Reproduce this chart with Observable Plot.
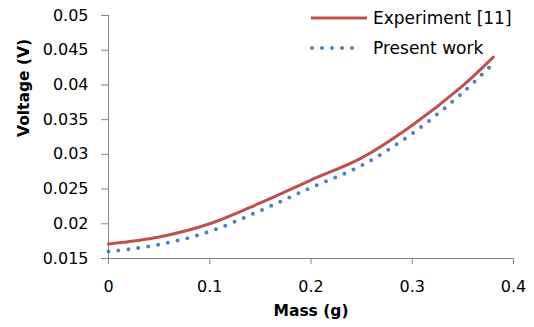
<!DOCTYPE html>
<html>
<head>
<meta charset="utf-8">
<script src="https://cdn.jsdelivr.net/npm/d3@7"></script>
<script src="https://cdn.jsdelivr.net/npm/@observablehq/plot@0.6"></script>
<style>
  html, body { margin: 0; padding: 0; background: #fff; }
  #wrap { position: relative; width: 534px; height: 327px; font-family: "DejaVu Sans", sans-serif; }
  #legend { position: absolute; left: 0; top: 0; }
</style>
</head>
<body>
<div id="wrap"></div>
<script>
const mass = [0, 0.05, 0.1, 0.15, 0.2, 0.25, 0.3, 0.35, 0.38];
const experiment = [0.0171, 0.0181, 0.0200, 0.0230, 0.0263, 0.0295, 0.0342, 0.0399, 0.0440];
const presentWork = [0.0160, 0.0170, 0.0189, 0.0219, 0.0252, 0.0284, 0.0330, 0.0389, 0.0431];
const xTicks = [0, 0.1, 0.2, 0.3, 0.4];
const xTickLabels = ["0", "0.1", "0.2", "0.3", "0.4"];
const yTicks = [0.015, 0.02, 0.025, 0.03, 0.035, 0.04, 0.045, 0.05];
const yTickLabels = ["0.015", "0.02", "0.025", "0.03", "0.035", "0.04", "0.045", "0.05"];
const seriesNames = ["Experiment [11]", "Present work"];
const seriesColors = ["#C0504D", "#4F81BD"];

const expData = mass.map((m, i) => ({mass: m, v: experiment[i]}));
const pwData = mass.map((m, i) => ({mass: m, v: presentWork[i]}));
const axisColor = "#868686";

const chart = Plot.plot({
  width: 534,
  height: 327,
  marginLeft: 108,
  marginRight: 21,
  marginTop: 15,
  marginBottom: 69,
  style: {fontFamily: "DejaVu Sans, sans-serif", fontSize: "16px", color: "#000", background: "transparent"},
  x: {domain: [0, 0.4]},
  y: {domain: [0.015, 0.05]},
  marks: [
    Plot.axisY({ticks: yTicks, tickFormat: d => yTickLabels[yTicks.indexOf(d)], tickSize: 7, tickPadding: 13, stroke: axisColor, fill: "#000", label: null}),
    Plot.axisX({ticks: xTicks, tickFormat: d => xTickLabels[xTicks.indexOf(d)], tickSize: 6, tickPadding: 16, stroke: axisColor, fill: "#000", label: null}),
    Plot.ruleX([0], {stroke: axisColor}),
    Plot.ruleY([0.015], {stroke: axisColor}),
    Plot.line(expData, {x: "mass", y: "v", stroke: seriesColors[0], strokeWidth: 3, curve: "catmull-rom"}),
    Plot.line(pwData, {x: "mass", y: "v", stroke: seriesColors[1], strokeWidth: 4, strokeDasharray: "0 10", strokeLinecap: "round", curve: "catmull-rom"}),
    Plot.text(["Mass (g)"], {frameAnchor: "bottom", dy: 57, fontWeight: "bold", fontSize: 15.5, fill: "#000"}),
    Plot.text(["Voltage (V)"], {frameAnchor: "left", dx: -84, rotate: -90, fontWeight: "bold", fontSize: 15.5, fill: "#000"})
  ]
});

const wrap = document.getElementById("wrap");
wrap.appendChild(chart);

// Legend
const ns = "http://www.w3.org/2000/svg";
const leg = document.createElementNS(ns, "svg");
leg.setAttribute("id", "legend");
leg.setAttribute("width", 534);
leg.setAttribute("height", 70);
const rows = [18, 48];
seriesNames.forEach((name, i) => {
  const line = document.createElementNS(ns, "line");
  line.setAttribute("x1", i === 0 ? 311 : 312);
  line.setAttribute("x2", i === 0 ? 367 : 362);
  line.setAttribute("y1", rows[i]);
  line.setAttribute("y2", rows[i]);
  line.setAttribute("stroke", seriesColors[i]);
  if (i === 0) {
    line.setAttribute("stroke-width", 3);
  } else {
    line.setAttribute("stroke-width", 4);
    line.setAttribute("stroke-dasharray", "0 10");
    line.setAttribute("stroke-linecap", "round");
  }
  leg.appendChild(line);
  const t = document.createElementNS(ns, "text");
  t.setAttribute("x", 373);
  t.setAttribute("y", rows[i]);
  t.setAttribute("dy", "0.35em");
  t.setAttribute("font-size", "17px");
  t.setAttribute("font-family", "DejaVu Sans, sans-serif");
  t.setAttribute("fill", "#000");
  t.textContent = name;
  leg.appendChild(t);
});
wrap.appendChild(leg);
</script>
</body>
</html>
